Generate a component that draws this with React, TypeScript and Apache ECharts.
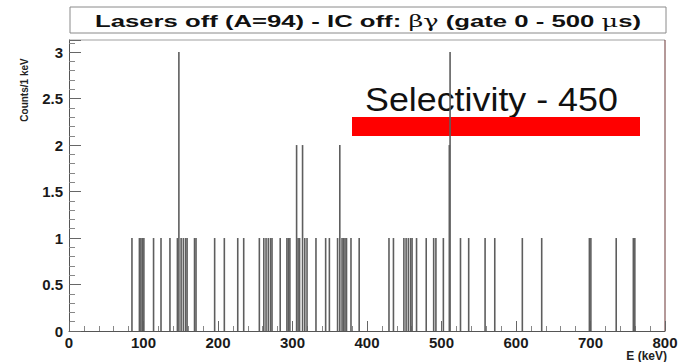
import React, { useEffect, useRef } from 'react';
import * as echarts from 'echarts';

// Nonzero histogram bins (1 keV bins): energy (keV) and counts
const peakEnergies = [
  84, 94, 96, 98, 100, 113, 123, 135, 145, 147, 150, 153, 156, 158, 168, 170,
  195, 208, 226, 234, 255, 261, 264, 267, 270, 272, 283, 292, 294, 296,
  305, 307, 309, 313, 316, 319, 331, 344, 349, 360, 363, 366, 368, 370, 372,
  378, 389, 429, 435, 449, 452, 455, 458, 460, 466, 479, 489, 492, 502,
  510, 511, 525, 536, 558, 571, 608, 634, 698, 700, 734, 757, 759,
];
const peakCounts = [
  1, 1, 1, 1, 1, 1, 1, 1, 1, 3, 1, 1, 1, 1, 1, 1,
  1, 1, 1, 1, 1, 1, 1, 1, 1, 1, 1, 1, 1, 1,
  2, 1, 1, 2, 1, 1, 1, 1, 1, 1, 2, 1, 1, 1, 1,
  1, 1, 1, 1, 1, 1, 1, 1, 1, 1, 1, 1, 1, 1,
  2, 3, 1, 1, 1, 1, 1, 1, 1, 1, 1, 1, 1,
];

const titleParts: { text: string; serif: boolean }[] = [
  { text: 'Lasers off (A=94) - IC off: ', serif: false },
  { text: 'βγ', serif: true },
  { text: ' (gate 0 - 500 ', serif: false },
  { text: 'μ', serif: true },
  { text: 's)', serif: false },
];
const annotationText = 'Selectivity - 450';
const xAxisTitle = 'E (keV)';
const yAxisTitle = 'Counts/1 keV';

const SANS = '"Liberation Sans", Arial, Helvetica, sans-serif';
const SERIF = '"DejaVu Serif", "Liberation Serif", serif';

function measure(text: string, font: string): number {
  const c = document.createElement('canvas').getContext('2d');
  if (!c) return text.length * 8;
  c.font = font;
  return c.measureText(text).width;
}

export default function App() {
  const ref = useRef<HTMLDivElement>(null);
  useEffect(() => {
    if (!ref.current) return;
    const chart = echarts.init(ref.current, undefined, { renderer: 'svg' });

    const boldFont = `bold 17px ${SANS}`;
    const serifFont = `normal 17px ${SERIF}`;
    let cx = 0;
    const titleChildren: any[] = [];
    titleParts.forEach((p) => {
      const f = p.serif ? serifFont : boldFont;
      titleChildren.push({
        type: 'text',
        x: cx,
        y: 0,
        style: {
          text: p.text,
          font: f,
          fill: '#111',
          align: 'left',
          verticalAlign: 'middle',
          textAlign: 'left',
          textVerticalAlign: 'middle',
        },
      });
      cx += measure(p.text, f);
    });
    const titleScale = 546 / cx;

    const annFont = `normal 33px ${SANS}`;
    const annScale = 253 / measure(annotationText, annFont);

    const option: any = {
      animation: false,
      backgroundColor: '#ffffff',
      grid: { left: 69, right: 19, top: 40, bottom: 31, containLabel: false },
      xAxis: {
        type: 'value',
        min: 0,
        max: 800,
        interval: 100,
        axisLine: { show: true, lineStyle: { color: '#555', width: 1 } },
        axisTick: { show: true, inside: true, length: 10, lineStyle: { color: '#666' } },
        minorTick: { show: true, splitNumber: 5, length: 5, lineStyle: { color: '#888' } },
        splitLine: { show: false },
        axisLabel: {
          color: '#1a1a1a',
          fontFamily: SANS,
          fontWeight: 'bold',
          fontSize: 15,
          margin: 4,
        },
      },
      yAxis: {
        type: 'value',
        min: 0,
        max: 3.13,
        interval: 0.5,
        axisLine: { show: true, lineStyle: { color: '#555', width: 1 } },
        axisTick: { show: true, inside: true, length: 12, lineStyle: { color: '#666' } },
        minorTick: { show: true, splitNumber: 5, length: 6, lineStyle: { color: '#888' } },
        splitLine: { show: false },
        axisLabel: {
          color: '#1a1a1a',
          fontFamily: SANS,
          fontWeight: 'bold',
          fontSize: 15,
          margin: 6,
          showMaxLabel: false,
        },
      },
      series: [
        {
          type: 'bar',
          data: peakEnergies.map((e, i) => [e + 0.5, peakCounts[i]]),
          barWidth: 1.6,
          itemStyle: { color: '#5e5e5e' },
          silent: true,
        },
      ],
      graphic: [
        {
          type: 'rect',
          shape: { x: 70, y: 7, width: 596, height: 26 },
          style: { fill: '#fff', stroke: '#8a8a8a', lineWidth: 1 },
        },
        {
          type: 'group',
          x: 95,
          y: 21,
          scaleX: titleScale,
          children: titleChildren,
        },
        {
          type: 'line',
          shape: { x1: 69, y1: 40, x2: 665, y2: 40 },
          style: { stroke: '#a0a0a0', lineWidth: 1 },
        },
        {
          type: 'line',
          shape: { x1: 665, y1: 40, x2: 665, y2: 331 },
          style: { stroke: '#6a3535', lineWidth: 1 },
        },
        {
          type: 'text',
          x: 365,
          y: 100,
          scaleX: annScale,
          style: {
            text: annotationText,
            font: annFont,
            fill: '#111',
            align: 'left',
            verticalAlign: 'middle',
            textAlign: 'left',
            textVerticalAlign: 'middle',
          },
        },
        {
          type: 'rect',
          shape: { x: 352, y: 117, width: 288, height: 19 },
          style: { fill: '#ff0000' },
        },
        {
          type: 'text',
          x: 24,
          y: 90,
          rotation: Math.PI / 2,
          style: {
            text: yAxisTitle,
            font: `bold 10px ${SANS}`,
            fill: '#222',
            align: 'center',
            verticalAlign: 'middle',
            textAlign: 'center',
            textVerticalAlign: 'middle',
          },
        },
        {
          type: 'text',
          x: 667,
          y: 356,
          style: {
            text: xAxisTitle,
            font: `bold 12px ${SANS}`,
            fill: '#222',
            align: 'right',
            verticalAlign: 'middle',
            textAlign: 'right',
            textVerticalAlign: 'middle',
          },
        },
      ],
    };
    chart.setOption(option);
    return () => chart.dispose();
  }, []);

  return (
    <div
      ref={ref}
      style={{ position: 'fixed', left: 0, top: 0, width: 684, height: 362, background: '#fff' }}
    />
  );
}
